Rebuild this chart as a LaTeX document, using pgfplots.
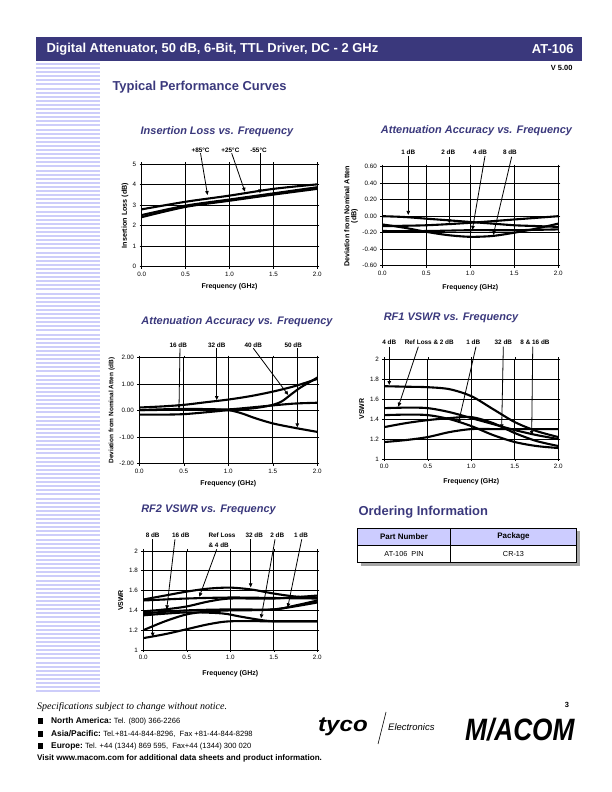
\documentclass[border=0pt]{standalone}
\usepackage{fontspec}
\setmainfont{Liberation Sans}
\newfontfamily\serifit{Liberation Serif}
\usepackage{pgfplots}
\pgfplotsset{compat=1.18}
\usetikzlibrary{arrows.meta}
\definecolor{navy}{RGB}{58,56,124}
\definecolor{stripe}{RGB}{205,205,250}
\definecolor{lav}{RGB}{204,204,255}
\newcommand{\fs}[1]{\fontsize{#1}{#1}\selectfont}
\tikzset{
  ann/.style={-{Triangle[length=4bp,width=3.5bp]}, black, line width=0.8bp},
  lab/.style={font=\bfseries\fs{6.4}},
}
\pgfplotsset{
  ds/.style={
    scale only axis, anchor=south west, clip=false,
    xmin=0, xmax=2, xtick={0,0.5,1,1.5,2},
    grid=major, major grid style={black, line width=0.7bp},
    axis line style={black, line width=0.9bp},
    tick style={black, line width=0.6bp}, major tick length=2bp, tick align=outside,
    /pgf/number format/assume math mode=true,
    ticklabel style={font=\fs{6.3}},
    xticklabel style={/pgf/number format/.cd, fixed, fixed zerofill, precision=1},
    xlabel={Frequency (GHz)},
    label style={font=\bfseries\fs{7}},
    cycle list={{black,solid,mark=none}},
    every axis plot/.append style={line width=2.1bp, smooth},
  },
}
\newcommand{\blt}[3]{%
  \fill (37.5,#1-2.8) rectangle (43.1,#1+2.8);
  \node[anchor=west, inner sep=0pt] at (51,#1) {\bfseries\fs{8.4}#2\ \mdseries\fs{7.6}#3};}
\begin{document}
\begin{tikzpicture}[x=1bp,y=1bp]
\useasboundingbox (0,0) rectangle (612,792);
% header
\fill[navy] (36,755) rectangle (582,731);
\node[anchor=west, white, font=\bfseries\fs{13}] at (43,743) {Digital Attenuator, 50 dB, 6-Bit, TTL Driver, DC - 2 GHz};
\node[anchor=east, white, font=\bfseries\fs{13}] at (577,743) {AT-106};
\node[anchor=east, font=\bfseries\fs{7.5}] at (576,724) {V 5.00};
\node[anchor=west, navy, font=\bfseries\fs{13}] at (109,705) {Typical Performance Curves};
% stripes
\foreach \i in {0,...,153} {
  \fill[stripe] (36,{729-\i*4.1}) rectangle (100,{727-\i*4.1});
}
% chart titles
\begin{scope}[every node/.style={navy, font=\bfseries\itshape\fs{11}}]
\node at (217,660.3) {Insertion Loss vs. Frequency};
\node at (476.5,661) {Attenuation Accuracy vs. Frequency};
\node at (237,470.5) {Attenuation Accuracy vs. Frequency};
\node at (451,474) {RF1 VSWR vs. Frequency};
\node at (208.5,282) {RF2 VSWR vs. Frequency};
\end{scope}

% Chart 1: Insertion loss
\begin{axis}[ds, at={(141.7bp,525.3bp)}, width=175.6bp, height=102.4bp,
  ymin=0, ymax=5, ytick={0,1,2,3,4,5},
  ylabel={Insertion Loss (dB)},
  xlabel style={at={(axis description cs:0.5,-0.195)}, anchor=center},
  ylabel style={at={(axis description cs:-0.095,0.5)}, anchor=center, font=\bfseries\fs{7.2}}]
\addplot coordinates {(0,2.80) (0.5,3.17) (1.0,3.47) (1.5,3.80) (2.0,4.02)};
\addplot coordinates {(0,2.52) (0.5,2.98) (1.0,3.28) (1.5,3.58) (2.0,3.88)};
\addplot coordinates {(0,2.42) (0.5,2.92) (1.0,3.22) (1.5,3.52) (2.0,3.80)};
\node[lab] at (axis cs:0.67,5.70) {+85°C};
\node[lab] at (axis cs:1.01,5.70) {+25°C};
\node[lab] at (axis cs:1.33,5.70) {-55°C};
\draw[ann] (axis cs:0.67,5.54) -- (axis cs:0.75,3.50);
\draw[ann] (axis cs:1.025,5.54) -- (axis cs:1.176,3.66);
\draw[ann] (axis cs:1.347,5.54) -- (axis cs:1.347,3.58);
\end{axis}

% Chart 2: Attenuation accuracy 1-8 dB
\begin{axis}[ds, at={(382.3bp,526.3bp)}, width=176bp, height=99bp,
  ymin=-0.6, ymax=0.6, ytick={-0.6,-0.4,-0.2,0,0.2,0.4,0.6},
  yticklabel style={/pgf/number format/.cd, fixed, fixed zerofill, precision=2},
  ylabel={Deviation from Nominal Atten\\(dB)},
  xlabel style={at={(axis description cs:0.5,-0.225)}, anchor=center},
  ylabel style={at={(axis description cs:-0.178,0.5)}, anchor=center, align=center, font=\bfseries\fs{7.2}}]
\addplot coordinates {(0,0.0) (0.25,-0.01) (0.5,-0.03) (0.75,-0.05) (1.0,-0.07) (1.25,-0.09) (1.5,-0.11) (1.75,-0.12) (2.0,-0.13)};
\addplot coordinates {(0,-0.12) (0.5,-0.11) (1.0,-0.08) (1.5,-0.04) (2.0,0.0)};
\addplot coordinates {(0,-0.18) (0.5,-0.18) (1.0,-0.17) (1.5,-0.17) (2.0,-0.16)};
\addplot coordinates {(0,-0.10) (0.25,-0.14) (0.5,-0.19) (0.75,-0.23) (1.0,-0.25) (1.25,-0.24) (1.5,-0.20) (1.75,-0.15) (2.0,-0.09)};
\node[lab] at (axis cs:0.295,0.775) {1 dB};
\node[lab] at (axis cs:0.75,0.775) {2 dB};
\node[lab] at (axis cs:1.11,0.775) {4 dB};
\node[lab] at (axis cs:1.45,0.775) {8 dB};
\draw[ann] (axis cs:0.295,0.733) -- (axis cs:0.295,0.015);
\draw[ann] (axis cs:0.761,0.721) -- (axis cs:0.761,-0.086);
\draw[ann] (axis cs:1.167,0.73) -- (axis cs:1.023,-0.167);
\draw[ann] (axis cs:1.47,0.72) -- (axis cs:1.261,-0.228);
\end{axis}

% Chart 3: Attenuation accuracy 16-50 dB
\begin{axis}[ds, at={(139.3bp,328.3bp)}, width=178bp, height=106bp,
  ymin=-2, ymax=2, ytick={-2,-1,0,1,2},
  yticklabel style={/pgf/number format/.cd, fixed, fixed zerofill, precision=2},
  ylabel={Deviation from Nominal Atten (dB)},
  xlabel style={at={(axis description cs:0.5,-0.189)}, anchor=center},
  ylabel style={at={(axis description cs:-0.155,0.5)}, anchor=center, font=\bfseries\fs{6.5}}]
\addplot coordinates {(0,0.12) (0.25,0.16) (0.5,0.22) (0.75,0.32) (1.0,0.42) (1.25,0.55) (1.5,0.72) (1.75,0.93) (2.0,1.20)};
\addplot coordinates {(0,0.02) (0.25,0.05) (0.5,0.07) (0.75,0.06) (1.0,0.05) (1.25,0.12) (1.5,0.20) (1.75,0.27) (2.0,0.30)};
\addplot coordinates {(0,-0.15) (0.25,-0.15) (0.5,-0.13) (0.75,-0.06) (1.0,0.02) (1.25,0.08) (1.4,0.15) (1.5,0.22) (1.6,0.35) (1.7,0.60) (1.8,0.85) (1.9,1.05) (2.0,1.25)};
\addplot coordinates {(0,0.02) (0.25,0.03) (0.5,0.04) (0.75,0.04) (1.0,0.02) (1.15,-0.10) (1.3,-0.28) (1.5,-0.48) (1.75,-0.65) (2.0,-0.80)};
\node[lab] at (axis cs:0.438,2.48) {16 dB};
\node[lab] at (axis cs:0.87,2.48) {32 dB};
\node[lab] at (axis cs:1.28,2.48) {40 dB};
\node[lab] at (axis cs:1.73,2.48) {50 dB};
\draw[ann] (axis cs:0.457,2.355) -- (axis cs:0.446,0.075);
\draw[ann] (axis cs:0.87,2.355) -- (axis cs:0.87,0.40);
\draw[ann] (axis cs:1.281,2.355) -- (axis cs:1.674,0.59);
\draw[ann] (axis cs:1.775,2.355) -- (axis cs:1.775,-0.63);
\end{axis}

% Chart 4: RF1 VSWR
\begin{axis}[ds, at={(384.3bp,333bp)}, width=174bp, height=99.7bp,
  ymin=1, ymax=2, ytick={1,1.2,1.4,1.6,1.8,2},
  ylabel={VSWR},
  xlabel style={at={(axis description cs:0.5,-0.228)}, anchor=center},
  ylabel style={at={(axis description cs:-0.13,0.5)}, anchor=center}]
\addplot coordinates {(0,1.73) (0.25,1.725) (0.5,1.72) (0.75,1.70) (1.0,1.63) (1.25,1.50) (1.5,1.37) (1.75,1.28) (2.0,1.22)};
\addplot coordinates {(0,1.51) (0.25,1.515) (0.5,1.51) (0.75,1.47) (1.0,1.41) (1.25,1.35) (1.5,1.29) (1.75,1.24) (2.0,1.20)};
\addplot coordinates {(0,1.44) (0.25,1.445) (0.5,1.44) (0.75,1.40) (1.0,1.33) (1.25,1.24) (1.5,1.17) (1.75,1.13) (2.0,1.11)};
\addplot coordinates {(0,1.32) (0.25,1.36) (0.5,1.39) (0.75,1.41) (1.0,1.42) (1.25,1.36) (1.5,1.26) (1.75,1.18) (2.0,1.13)};
\addplot coordinates {(0,1.17) (0.25,1.19) (0.5,1.22) (0.75,1.27) (1.0,1.30) (1.25,1.30) (1.5,1.30) (1.75,1.30) (2.0,1.30)};
\node[lab] at (axis cs:0.057,2.167) {4 dB};
\node[lab] at (axis cs:0.517,2.167) {Ref Loss \& 2 dB};
\node[lab] at (axis cs:1.023,2.167) {1 dB};
\node[lab] at (axis cs:1.368,2.167) {32 dB};
\node[lab] at (axis cs:1.732,2.167) {8 \& 16 dB};
\draw[ann] (axis cs:0.057,2.126) -- (axis cs:0.057,1.742);
\draw[ann] (axis cs:0.391,2.126) -- (axis cs:0.161,1.525);
\draw[ann] (axis cs:1.054,2.126) -- (axis cs:0.851,1.358);
\draw[ann] (axis cs:1.368,2.126) -- (axis cs:1.349,1.308);
\draw[ann] (axis cs:1.706,2.126) -- (axis cs:1.694,1.241);
\end{axis}

% Chart 5: RF2 VSWR
\begin{axis}[ds, at={(143.3bp,142bp)}, width=174bp, height=99bp,
  ymin=1, ymax=2, ytick={1,1.2,1.4,1.6,1.8,2},
  ylabel={VSWR},
  xlabel style={at={(axis description cs:0.5,-0.235)}, anchor=center},
  ylabel style={at={(axis description cs:-0.13,0.5)}, anchor=center}]
\addplot coordinates {(0,1.51) (0.25,1.55) (0.5,1.59) (0.75,1.62) (1.0,1.63) (1.25,1.61) (1.5,1.57) (1.75,1.54) (2.0,1.53)};
\addplot coordinates {(0,1.50) (0.5,1.52) (1.0,1.53) (1.5,1.525) (2.0,1.52)};
\addplot coordinates {(0,1.39) (0.25,1.41) (0.5,1.44) (0.75,1.49) (1.0,1.52) (1.5,1.52) (2.0,1.55)};
\addplot coordinates {(0,1.37) (0.5,1.40) (1.0,1.41) (1.5,1.41) (1.75,1.45) (2.0,1.50)};
\addplot coordinates {(0,1.35) (0.5,1.38) (0.9,1.37) (1.1,1.34) (1.3,1.31) (1.5,1.29) (2.0,1.29)};
\addplot coordinates {(0,1.20) (0.25,1.29) (0.5,1.36) (0.75,1.39) (1.0,1.40) (1.5,1.41) (2.0,1.48)};
\addplot coordinates {(0,1.12) (0.25,1.16) (0.5,1.21) (0.75,1.26) (1.0,1.29) (1.5,1.29) (2.0,1.29)};
\node[lab] at (axis cs:0.108,2.155) {8 dB};
\node[lab] at (axis cs:0.43,2.155) {16 dB};
\node[lab, anchor=west] at (axis cs:0.71,2.155) {Ref Loss};
\node[lab, anchor=west] at (axis cs:0.71,2.054) {\& 4 dB};
\node[lab] at (axis cs:1.276,2.155) {32 dB};
\node[lab] at (axis cs:1.54,2.155) {2 dB};
\node[lab] at (axis cs:1.813,2.155) {1 dB};
\draw[ann] (axis cs:0.108,2.118) -- (axis cs:0.108,1.134);
\draw[ann] (axis cs:0.364,2.118) -- (axis cs:0.269,1.411);
\draw[ann] (axis cs:0.844,2.017) -- (axis cs:0.644,1.538);
\draw[ann] (axis cs:1.234,2.118) -- (axis cs:1.234,1.633);
\draw[ann] (axis cs:1.514,2.118) -- (axis cs:1.353,1.32);
\draw[ann] (axis cs:1.821,2.118) -- (axis cs:1.66,1.431);
\end{axis}

% Ordering information
\node[anchor=west, navy, font=\bfseries\fs{13}] at (355,280) {Ordering Information};
\fill[gray!70] (360.5,226.3) rectangle (580,260.7);
\fill[lav] (357.3,263.7) rectangle (576.7,247);
\fill[white] (357.3,247) rectangle (576.7,229.3);
\draw[line width=0.8bp] (357.3,229.3) rectangle (576.7,263.7);
\draw[line width=0.8bp] (357.3,247) -- (576.7,247);
\draw[line width=0.8bp] (450,229.3) -- (450,263.7);
\node[font=\bfseries\fs{8}] at (404,255.3) {Part Number};
\node[font=\bfseries\fs{8}] at (513.5,255.3) {Package};
\node[font=\fs{7.3}] at (404,238) {AT-106\ \ PIN};
\node[font=\fs{7.3}] at (513.5,238) {CR-13};

% footer
\node[anchor=west, inner sep=0pt, font=\serifit\itshape\fs{10}] at (37,85) {Specifications subject to change without notice.};
\node[font=\bfseries\fs{7.5}] at (567,87) {3};
\blt{71}{North America:}{Tel. (800) 366-2266}
\blt{58}{Asia/Pacific:}{Tel.+81-44-844-8296,\ \ Fax +81-44-844-8298}
\blt{46}{Europe:}{Tel. +44 (1344) 869 595,\ \ Fax+44 (1344) 300 020}
\node[anchor=west, inner sep=0pt, font=\bfseries\fs{8.1}] at (37,34) {Visit www.macom.com for additional data sheets and product information.};
% logos
\node[anchor=west, inner sep=0pt, font=\bfseries\itshape\fs{21}, xscale=1.15] at (318,65) {tyco};
\draw[line width=0.6bp] (378,48) -- (386,80);
\node[anchor=west, inner sep=0pt, font=\itshape\fs{9.5}] at (388,65) {Electronics};
\node[anchor=west, inner sep=0pt, font=\bfseries\itshape\fs{31}, xscale=0.85] at (465,62) {M/ACOM};
\end{tikzpicture}
\end{document}
